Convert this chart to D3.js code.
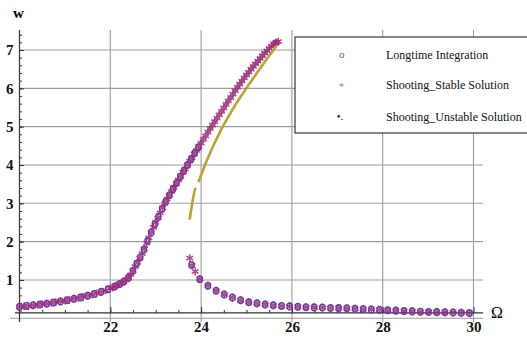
<!DOCTYPE html>
<html>
<head>
<meta charset="utf-8">
<script src="https://cdn.jsdelivr.net/npm/d3@7"></script>
<style>
	body { margin: 0; background: #fff; }
	svg { display: block; }
</style>
</head>
<body>
<div id="vis"></div>
<script>
// longtime integration (circles), rising branch then lower branch after the jump
var longtimeUp = [
	[20.0, 0.30], [20.15, 0.32], [20.3, 0.34], [20.45, 0.36], [20.6, 0.38], [20.75, 0.41],
	[20.9, 0.44], [21.05, 0.47], [21.2, 0.51], [21.35, 0.545], [21.5, 0.59], [21.65, 0.635],
	[21.8, 0.69], [21.95, 0.755], [22.1, 0.83], [22.2, 0.89], [22.3, 0.96], [22.4, 1.06],
	[22.5, 1.24], [22.58, 1.42], [22.66, 1.59], [22.74, 1.79], [22.82, 2.02], [22.9, 2.24],
	[22.98, 2.45], [23.06, 2.65], [23.14, 2.85], [23.22, 3.04], [23.3, 3.21], [23.38, 3.37],
	[23.46, 3.53], [23.54, 3.69], [23.62, 3.85], [23.7, 4.0], [23.78, 4.15], [23.86, 4.31],
	[23.94, 4.46]
];
var longtimeLow = [
	[23.79, 1.39], [23.97, 1.02], [24.15, 0.85], [24.33, 0.72], [24.51, 0.62], [24.69, 0.54],
	[24.87, 0.47], [25.05, 0.42], [25.23, 0.39], [25.41, 0.36], [25.59, 0.34], [25.77, 0.32],
	[25.95, 0.31], [26.13, 0.30], [26.31, 0.29], [26.49, 0.285], [26.67, 0.28], [26.85, 0.27],
	[27.03, 0.265], [27.21, 0.26], [27.39, 0.25], [27.57, 0.24], [27.75, 0.23], [27.93, 0.22],
	[28.11, 0.21], [28.29, 0.20], [28.47, 0.19], [28.65, 0.18], [28.83, 0.17], [29.01, 0.165],
	[29.19, 0.16], [29.37, 0.155], [29.55, 0.15], [29.73, 0.145], [29.91, 0.14]
];

// shooting, stable solution (stars)
var stableUp = [
	[20.0, 0.30], [20.1, 0.31], [20.2, 0.32], [20.3, 0.34], [20.4, 0.35], [20.5, 0.37],
	[20.6, 0.38], [20.7, 0.40], [20.8, 0.42], [20.9, 0.44], [21.0, 0.46], [21.1, 0.48],
	[21.2, 0.51], [21.3, 0.53], [21.4, 0.56], [21.5, 0.59], [21.6, 0.62], [21.7, 0.65],
	[21.8, 0.69], [21.9, 0.73], [22.0, 0.78], [22.05, 0.80], [22.1, 0.83], [22.15, 0.86],
	[22.2, 0.89], [22.25, 0.92], [22.3, 0.96], [22.35, 1.00], [22.4, 1.06], [22.45, 1.14],
	[22.5, 1.24], [22.55, 1.35], [22.6, 1.46], [22.65, 1.57], [22.7, 1.69], [22.75, 1.81],
	[22.8, 1.96], [22.85, 2.10], [22.9, 2.24], [22.95, 2.37], [23.0, 2.50], [23.05, 2.62],
	[23.1, 2.75], [23.15, 2.88], [23.2, 3.00], [23.25, 3.11], [23.3, 3.21], [23.35, 3.31],
	[23.4, 3.41], [23.45, 3.51], [23.5, 3.61], [23.55, 3.71], [23.6, 3.81], [23.65, 3.90],
	[23.7, 4.00], [23.75, 4.10], [23.8, 4.19], [23.85, 4.29], [23.9, 4.38], [23.95, 4.48],
	[24.0, 4.57], [24.05, 4.67], [24.1, 4.76], [24.15, 4.86], [24.2, 4.95], [24.25, 5.04],
	[24.3, 5.13], [24.35, 5.22], [24.4, 5.31], [24.45, 5.40], [24.5, 5.49], [24.55, 5.58],
	[24.6, 5.67], [24.65, 5.76], [24.7, 5.85], [24.75, 5.94], [24.8, 6.03], [24.85, 6.11],
	[24.9, 6.19], [24.95, 6.27], [25.0, 6.35], [25.05, 6.42], [25.1, 6.50], [25.15, 6.57],
	[25.2, 6.64], [25.25, 6.71], [25.3, 6.78], [25.35, 6.85], [25.4, 6.92], [25.45, 6.98],
	[25.5, 7.04], [25.55, 7.10], [25.6, 7.15], [25.63, 7.18], [25.66, 7.20], [25.7, 7.22]
];
var stableLow = [
	[23.75, 1.57], [23.8, 1.38], [23.87, 1.22], [23.97, 1.02], [24.15, 0.85], [24.33, 0.72],
	[24.51, 0.62], [24.69, 0.54], [24.87, 0.47], [25.05, 0.42], [25.23, 0.39], [25.41, 0.36],
	[25.59, 0.34], [25.77, 0.32], [25.95, 0.31], [26.13, 0.30], [26.31, 0.29], [26.49, 0.285],
	[26.67, 0.28], [26.85, 0.27], [27.03, 0.265], [27.21, 0.26], [27.39, 0.25], [27.57, 0.24],
	[27.75, 0.23], [27.93, 0.22], [28.11, 0.21], [28.29, 0.20], [28.47, 0.19], [28.65, 0.18],
	[28.83, 0.17], [29.01, 0.165], [29.19, 0.16], [29.37, 0.155], [29.55, 0.15], [29.73, 0.145],
	[29.91, 0.14]
];

// shooting, unstable solution (dots), two runs with a small gap
var unstableA = [
	[23.75, 2.60], [23.77, 2.75], [23.79, 2.90], [23.81, 3.04], [23.83, 3.17], [23.85, 3.28],
	[23.87, 3.38]
];
var unstableB = [
	[23.95, 3.58], [24.0, 3.74], [24.05, 3.89], [24.1, 4.04], [24.15, 4.18], [24.2, 4.32],
	[24.25, 4.45], [24.3, 4.58], [24.35, 4.70], [24.4, 4.82], [24.45, 4.94], [24.5, 5.05],
	[24.55, 5.16], [24.6, 5.26], [24.65, 5.36], [24.7, 5.46], [24.75, 5.56], [24.8, 5.65],
	[24.85, 5.74], [24.9, 5.83], [24.95, 5.92], [25.0, 6.01], [25.05, 6.10], [25.1, 6.18],
	[25.15, 6.27], [25.2, 6.35], [25.25, 6.44], [25.3, 6.52], [25.35, 6.60], [25.4, 6.69],
	[25.45, 6.77], [25.5, 6.85], [25.55, 6.93], [25.6, 7.01], [25.65, 7.09]
];

var xLabels = [22, 24, 26, 28, 30];
var yLabels = [1, 2, 3, 4, 5, 6, 7];
var legendLabels = ['Longtime Integration', 'Shooting_Stable Solution', 'Shooting_Unstable Solution'];

var width = 527,
	height = 339;

var blue = '#3f3fc2',
	magenta = '#9e2f7a',
	olive = '#b9a233',
	grid = '#9c9c9c',
	serif = '"Liberation Serif", "Times New Roman", serif';

var x = d3.scaleLinear().domain([20, 30]).range([19.5, 473.5]);
var y = d3.scaleLinear().domain([0, 7]).range([318.3, 50]);

// the x axis sits a little above w = 0
var axisY = y(0.14);

var svg = d3.select('#vis').append('svg').attr('width', width).attr('height', height);
svg.append('rect').attr('width', width).attr('height', height).attr('fill', '#fff');

// grid
svg
	.selectAll('.hgrid')
	.data(d3.range(0, 8))
	.enter()
	.append('line')
	.attr('class', 'hgrid')
	.attr('x1', function(d) {
		return d === 0 ? 10 : x(20);
	})
	.attr('x2', 483)
	.attr('y1', function(d) {
		return y(d);
	})
	.attr('y2', function(d) {
		return y(d);
	})
	.attr('stroke', grid)
	.attr('stroke-width', 1.1);

svg
	.selectAll('.vgrid')
	.data(xLabels)
	.enter()
	.append('line')
	.attr('class', 'vgrid')
	.attr('x1', function(d) {
		return x(d);
	})
	.attr('x2', function(d) {
		return x(d);
	})
	.attr('y1', 30)
	.attr('y2', 322)
	.attr('stroke', grid)
	.attr('stroke-width', 1.1);

// y axis: minor + major ticks to the right of the line
var yMinor = d3.range(1, 38).map(function(i) {
	return i * 0.2;
});
svg.append('g').attr('transform', 'translate(' + x(20) + ',0)').call(d3.axisRight(y).tickValues(yMinor).tickSize(2.5).tickFormat(''));
svg.append('g').attr('transform', 'translate(' + x(20) + ',0)').call(d3.axisRight(y).tickValues(yLabels).tickSize(4.5).tickFormat(''));
svg
	.append('g')
	.attr('class', 'ylab')
	.attr('transform', 'translate(' + x(20) + ',0)')
	.call(d3.axisLeft(y).tickValues(yLabels).tickSize(0).tickPadding(6).tickFormat(d3.format('d')));

// x axis: ticks above the line
var xMinor = d3.range(1, 20).map(function(i) {
	return 20 + i * 0.5;
});
svg.append('g').attr('transform', 'translate(0,' + axisY + ')').call(d3.axisTop(x).tickValues(xMinor).tickSize(3).tickFormat(''));
svg.append('g').attr('transform', 'translate(0,' + axisY + ')').call(d3.axisTop(x).tickValues(xLabels).tickSize(6).tickFormat(''));
svg
	.append('g')
	.attr('class', 'xlab')
	.attr('transform', 'translate(0,' + axisY + ')')
	.call(d3.axisBottom(x).tickValues(xLabels).tickSize(0).tickPadding(8).tickFormat(d3.format('d')));

svg.selectAll('.domain').remove();
svg.selectAll('.tick line').attr('stroke', '#333').attr('stroke-width', 1);
svg
	.selectAll('.ylab text, .xlab text')
	.attr('font-family', serif)
	.attr('font-weight', 'bold')
	.attr('font-size', 15)
	.attr('fill', '#111');

// axis lines
svg.append('line').attr('x1', x(20)).attr('x2', x(20)).attr('y1', 30).attr('y2', 322).attr('stroke', '#333').attr('stroke-width', 1.2);
svg.append('line').attr('x1', 15).attr('x2', 483).attr('y1', axisY).attr('y2', axisY).attr('stroke', '#333').attr('stroke-width', 1.2);

// axis titles
svg
	.append('text')
	.attr('x', 18.5)
	.attr('y', 17.5)
	.attr('text-anchor', 'middle')
	.attr('font-family', serif)
	.attr('font-weight', 'bold')
	.attr('font-size', 15)
	.text('w');
svg
	.append('text')
	.attr('x', 491)
	.attr('y', 318)
	.attr('font-family', serif)
	.attr('font-size', 16)
	.text('Ω');

// longtime integration circles
var circles = longtimeUp.concat(longtimeLow);
svg
	.selectAll('.circ')
	.data(circles)
	.enter()
	.append('ellipse')
	.attr('class', 'circ')
	.attr('cx', function(d) {
		return x(d[0]);
	})
	.attr('cy', function(d) {
		return y(d[1]);
	})
	.attr('rx', 2.6)
	.attr('ry', 3.4)
	.attr('fill', 'none')
	.attr('stroke', blue)
	.attr('stroke-width', 1.3);

// stable shooting stars
var star = d3.symbol().type(d3.symbolAsterisk).size(42);
svg
	.selectAll('.star')
	.data(stableUp.concat(stableLow))
	.enter()
	.append('path')
	.attr('class', 'star')
	.attr('d', star)
	.attr('transform', function(d) {
		return 'translate(' + x(d[0]) + ',' + y(d[1]) + ')';
	})
	.attr('fill', 'none')
	.attr('stroke', magenta)
	.attr('stroke-width', 1.6)
	.attr('opacity', 0.85);

// unstable branch, dense dots
var line = d3
	.line()
	.x(function(d) {
		return x(d[0]);
	})
	.y(function(d) {
		return y(d[1]);
	})
	.curve(d3.curveMonotoneX);
[ unstableA, unstableB ].forEach(function(run) {
	svg.append('path').attr('d', line(run)).attr('fill', 'none').attr('stroke', olive).attr('stroke-width', 2.6).attr('stroke-linecap', 'round');
});

// legend
var legend = svg.append('g');
legend.append('rect').attr('x', 295).attr('y', 37).attr('width', 240).attr('height', 96).attr('fill', '#fff').attr('stroke', '#111').attr('stroke-width', 1);

var rows = [ 59, 89, 120.5 ];
legend
	.selectAll('.ltext')
	.data(legendLabels)
	.enter()
	.append('text')
	.attr('x', 386)
	.attr('y', function(d, i) {
		return rows[i];
	})
	.attr('font-family', serif)
	.attr('font-size', 12)
	.attr('fill', '#111')
	.text(function(d) {
		return d;
	});

legend.append('text').attr('x', 341.7).attr('y', 58).attr('text-anchor', 'middle').attr('font-family', serif).attr('font-size', 11).attr('fill', '#5252b0').text('o');
legend.append('text').attr('x', 341.5).attr('y', 90).attr('text-anchor', 'middle').attr('font-family', serif).attr('font-size', 11).attr('fill', '#c7679a').text('*');
legend.append('text').attr('x', 340).attr('y', 120).attr('text-anchor', 'middle').attr('font-family', serif).attr('font-size', 11).attr('fill', '#111').text('•.');
</script>
</body>
</html>
